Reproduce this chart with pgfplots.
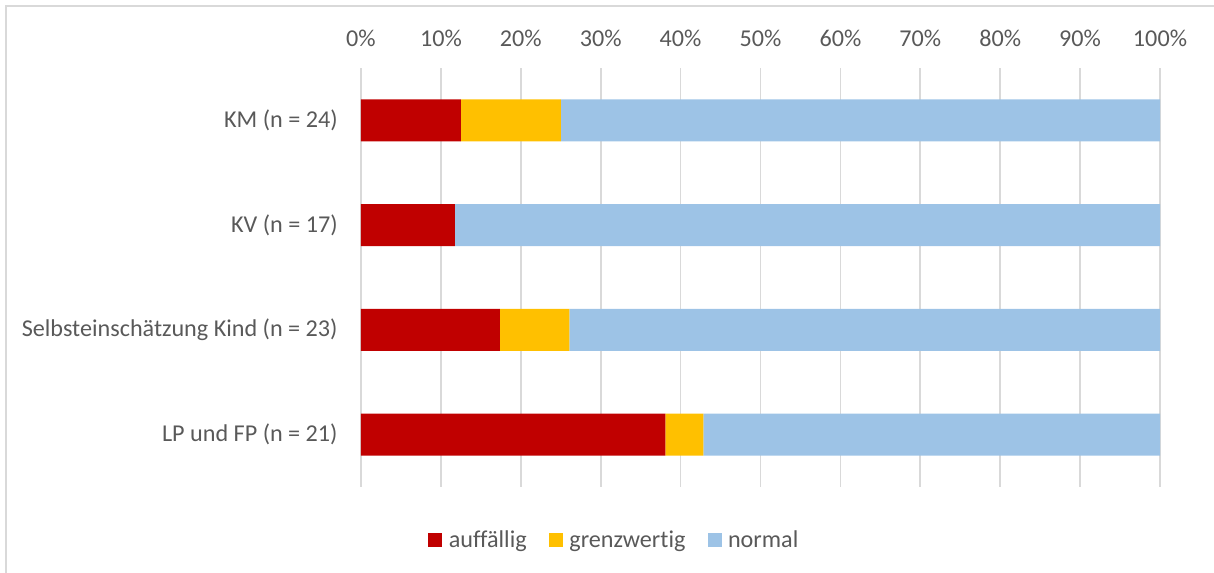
\documentclass[border=0pt]{standalone}
\usepackage{pgfplots}
\pgfplotsset{compat=1.18}
\usepackage{fontspec}
\setmainfont{Carlito}[Ligatures={NoCommon}]
\definecolor{rot}{HTML}{C00000}
\definecolor{gelb}{HTML}{FFC000}
\definecolor{blau}{HTML}{9DC3E6}
\definecolor{txt}{HTML}{595959}
\definecolor{gridc}{HTML}{D9D9D9}
\begin{document}
\begin{tikzpicture}
\useasboundingbox (0pt,0pt) rectangle (728.4pt,-343.2pt);
\draw[gridc, line width=1.2pt] (3.6pt,-3.6pt) rectangle (740pt,-360pt);
\begin{axis}[
  at={(216.6pt,-292.2pt)}, anchor=south west,
  scale only axis, width=479.4pt, height=251.4pt,
  xbar stacked, bar width=25.2pt,
  xmin=0, xmax=100, ymin=-0.5, ymax=3.5, y dir=reverse,
  xtick={0,10,...,100},
  xticklabel={\pgfmathprintnumber{\tick}\%},
  xticklabel pos=upper,
  /pgf/number format/assume math mode=true,
  ytick={0,1,2,3},
  yticklabels={KM (n = 24),KV (n = 17),Selbsteinschätzung Kind (n = 23),LP und FP (n = 21)},
  major tick length=0pt,
  axis line style={draw=none},
  xmajorgrids, grid style={gridc, line width=1pt},
  ticklabel style={font=\fontsize{14.5}{17}\selectfont, text=txt},
  xticklabel style={yshift=9.5pt},
  yticklabel style={xshift=-10.5pt},
  legend style={draw=none, legend columns=3, at={(0.318,-0.1265)}, anchor=center,
    font=\fontsize{14.5}{17}\selectfont, text=txt,
    /tikz/every odd column/.append style={column sep=1.8pt},
    /tikz/every even column/.append style={column sep=11.4pt}},
  legend image code/.code={\fill[#1] (0pt,-4.2pt) rectangle (8.4pt,4.2pt);},
]
\addplot[fill=rot, draw=none] coordinates {(12.5,0) (11.76,1) (17.39,2) (38.10,3)};
\addplot[fill=gelb, draw=none] coordinates {(12.5,0) (0,1) (8.70,2) (4.76,3)};
\addplot[fill=blau, draw=none] coordinates {(75.0,0) (88.24,1) (73.91,2) (57.14,3)};
\legend{auffällig, grenzwertig, normal}
\end{axis}
\end{tikzpicture}
\end{document}
